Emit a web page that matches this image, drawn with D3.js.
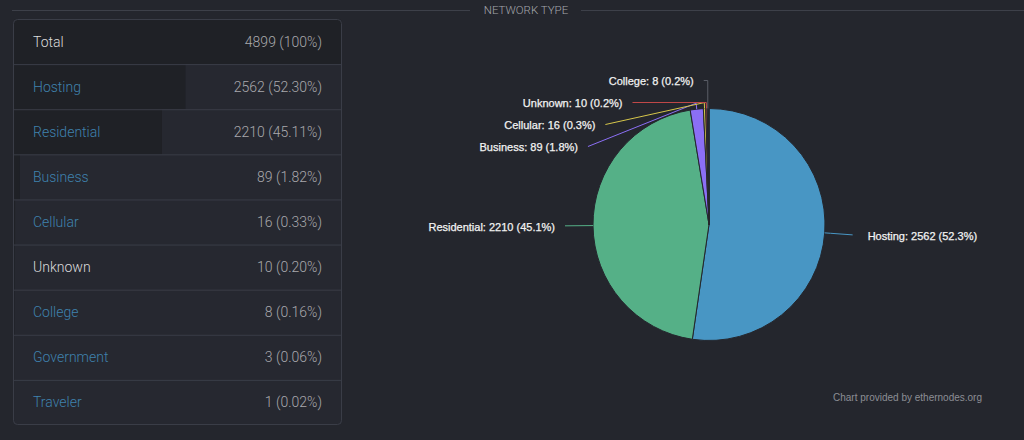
<!DOCTYPE html>
<html>
<head>
<meta charset="utf-8">
<script src="https://cdn.jsdelivr.net/npm/d3@7"></script>
<style>
  html, body { margin: 0; padding: 0; background: #24262d; }
  svg { display: block; }
</style>
</head>
<body>
<svg id="chart" width="1024" height="440"></svg>
<script>
// ---- data ----
const categories = ["Hosting", "Residential", "Business", "Cellular", "Unknown", "College", "Government", "Traveler"];
const counts = [2562, 2210, 89, 16, 10, 8, 3, 1];
const isLink = [true, true, true, true, false, true, true, true];
const sliceColors = ["#4896c4", "#55b087", "#8b6ff5", "#d6c64a", "#c04848", "#5a5d66", "#6a6d76", "#7a7d86"];
const titleText = "NETWORK TYPE";
const creditText = "Chart provided by ethernodes.org";
const total = d3.sum(counts);

const svg = d3.select("#chart");
const W = 1024, H = 440;
svg.append("rect").attr("width", W).attr("height", H).attr("fill", "#24262d");

// ---- header ----
const titleY = 10;
svg.append("line").attr("x1", 12).attr("x2", 470).attr("y1", titleY + 0.5).attr("y2", titleY + 0.5)
  .attr("stroke", "#3d4049").attr("stroke-width", 1);
svg.append("line").attr("x1", 581).attr("x2", W).attr("y1", titleY + 0.5).attr("y2", titleY + 0.5)
  .attr("stroke", "#3d4049").attr("stroke-width", 1);
svg.append("text").attr("x", 526).attr("y", titleY + 4).attr("text-anchor", "middle")
  .attr("font-family", "Roboto, 'Liberation Sans', sans-serif").attr("font-weight", 300)
  .attr("font-size", 11.5).attr("fill", "#a3a5ab").text(titleText);

// ---- table ----
const tbl = { x: 13, y: 19, w: 329, h: 406 };
const rows = [{ name: "Total", value: total, link: false }]
  .concat(categories.map((c, i) => ({ name: c, value: counts[i], link: isLink[i] })));
const yRow = d3.scaleBand().domain(d3.range(rows.length)).range([tbl.y, tbl.y + tbl.h]);
const xBar = d3.scaleLinear().domain([0, total]).range([0, tbl.w - 1]);
const pctFmt = d3.format(".2f");

const clip = svg.append("clipPath").attr("id", "tblclip");
clip.append("rect").attr("x", tbl.x).attr("y", tbl.y).attr("width", tbl.w).attr("height", tbl.h).attr("rx", 4);
const tg = svg.append("g").attr("clip-path", "url(#tblclip)");
tg.append("rect").attr("x", tbl.x).attr("y", tbl.y).attr("width", tbl.w).attr("height", tbl.h).attr("fill", "#262830");

const rowG = tg.selectAll("g.row").data(rows).join("g").attr("class", "row")
  .attr("transform", (d, i) => `translate(0,${yRow(i)})`);
rowG.append("rect").attr("x", tbl.x + 1).attr("y", 0)
  .attr("width", d => xBar(d.value)).attr("height", yRow.bandwidth())
  .attr("fill", "#1f2126");
rowG.filter((d, i) => i > 0).append("line")
  .attr("x1", tbl.x).attr("x2", tbl.x + tbl.w).attr("y1", 0.5).attr("y2", 0.5)
  .attr("stroke", "#3a3d47").attr("stroke-width", 1);
rowG.append("text").attr("x", 33).attr("y", yRow.bandwidth() / 2 + 5)
  .attr("font-family", "Roboto, 'Liberation Sans', sans-serif").attr("font-weight", 300)
  .attr("font-size", 14).attr("fill", d => d.link ? "#3f82ae" : "#dcdcdc").text(d => d.name);
rowG.append("text").attr("x", 322).attr("y", yRow.bandwidth() / 2 + 5).attr("text-anchor", "end")
  .attr("font-family", "Roboto, 'Liberation Sans', sans-serif").attr("font-weight", 300)
  .attr("font-size", 14).attr("fill", "#a9a9ad")
  .text((d, i) => i === 0 ? `${d.value} (100%)` : `${d.value} (${pctFmt(d.value / total * 100)}%)`);
svg.append("rect").attr("x", tbl.x + 0.5).attr("y", tbl.y + 0.5).attr("width", tbl.w - 1).attr("height", tbl.h - 1)
  .attr("rx", 4).attr("fill", "none").attr("stroke", "#3a3d47").attr("stroke-width", 1);

// ---- pie ----
const cx = 709, cy = 224.5, r = 116;
const pieData = categories.map((c, i) => ({ name: c, value: counts[i], color: sliceColors[i] }));
const pie = d3.pie().value(d => d.value).sort(null);
const arcs = pie(pieData);
const arc = d3.arc().innerRadius(0).outerRadius(r);
const pg = svg.append("g").attr("transform", `translate(${cx},${cy})`);
pg.selectAll("path").data(arcs).join("path").attr("d", arc)
  .attr("fill", d => d.data.color).attr("stroke", "#24262d").attr("stroke-width", 1).attr("stroke-linejoin", "round");

// labels
const pct1 = d3.format(".1f");
const labeled = arcs.filter(d => d.data.value / total >= 0.001).map(d => {
  const a = (d.startAngle + d.endAngle) / 2;
  return { d, a, side: Math.sin(a) >= 0 ? 1 : -1, y: -144 * Math.cos(a) };
});
// push apart labels on each side
[-1, 1].forEach(s => {
  const grp = labeled.filter(l => l.side === s).sort((p, q) => p.y - q.y);
  for (let i = 1; i < grp.length; i++) {
    if (grp[i].y < grp[i - 1].y + 22) grp[i].y = grp[i - 1].y + 22;
  }
});
const Rx = 144;
labeled.forEach(l => {
  const ly = l.y;
  const bx = Math.sin(l.a) * (r + 6), by = -Math.cos(l.a) * (r + 6);
  const ex = Math.sin(l.a) * r, ey = -Math.cos(l.a) * r;
  let lx = l.side * Math.sqrt(Math.max(0, Rx * Rx - ly * ly));
  if (l.side < 0) lx = Math.min(lx, bx - 4); else lx = Math.max(lx, bx + 4);
  const path = Math.abs(by - ly) > 12 && Math.abs(bx - lx) < 8
    ? `M${lx},${ly}L${bx},${ly}L${ex},${ey}`
    : `M${lx},${ly}L${bx},${by}L${ex},${ey}`;
  pg.append("path")
    .attr("d", path)
    .attr("fill", "none").attr("stroke", l.d.data.color).attr("stroke-width", 1);
  pg.append("text")
    .attr("x", lx + (l.side < 0 ? -10 : 15)).attr("y", ly + 1).attr("dy", "0.35em")
    .attr("text-anchor", l.side < 0 ? "end" : "start")
    .attr("font-family", "'Liberation Sans', Arial, sans-serif").attr("font-size", 11)
    .attr("fill", "#f2f2f2").attr("stroke", "#f2f2f2").attr("stroke-width", 0.25)
    .text(`${l.d.data.name}: ${l.d.data.value} (${pct1(l.d.data.value / total * 100)}%)`);
});

// credit
svg.append("text").attr("x", 982).attr("y", 401).attr("text-anchor", "end")
  .attr("font-family", "'Liberation Sans', Arial, sans-serif").attr("font-size", 10)
  .attr("fill", "#8c8e95").text(creditText);
</script>
</body>
</html>
